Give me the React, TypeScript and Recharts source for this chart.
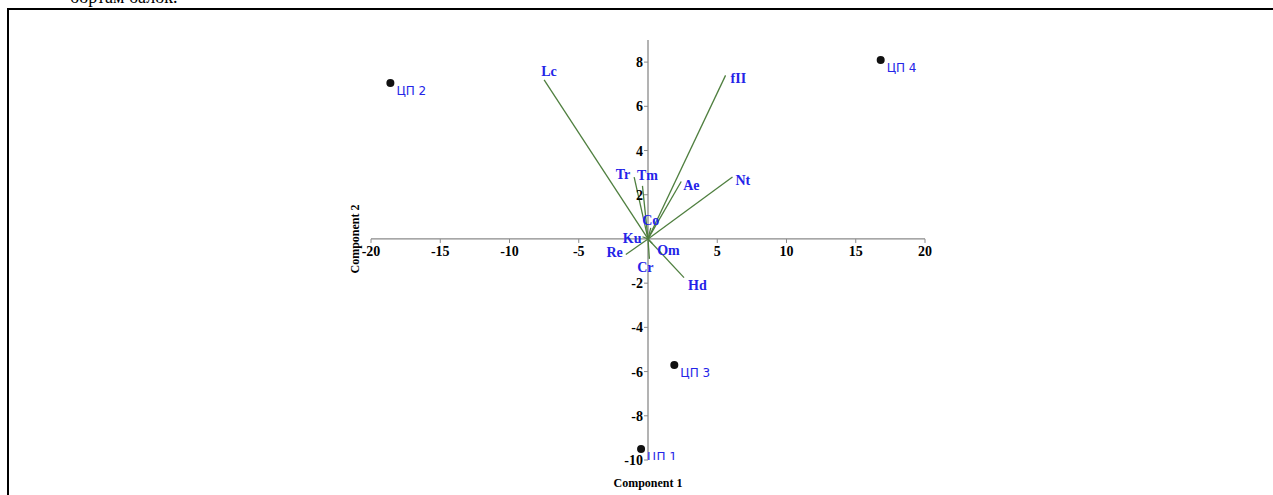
import React from "react";
import {
  ScatterChart,
  Scatter,
  XAxis,
  YAxis,
  ReferenceLine,
  ReferenceDot,
} from "recharts";

// loadings (arrows from origin)
const vectorNames = ["Lc", "fII", "Nt", "Ae", "Tr", "Tm", "Co", "Ku", "Om", "Re", "Cr", "Hd"];
const vectorX = [-7.5, 5.6, 6.1, 2.4, -1.0, -0.4, 0.2, -0.4, 0.3, -1.6, 0.1, 2.6];
const vectorY = [7.2, 7.4, 2.8, 2.6, 2.8, 2.4, 0.5, 0.1, -0.2, -0.7, -0.9, -1.75];

// scores
const pointNames = ["ЦП 1", "ЦП 2", "ЦП 3", "ЦП 4"];
const pointX = [-0.5, -18.6, 1.9, 16.8];
const pointY = [-9.5, 7.05, -5.7, 8.1];

const xTicks = [-20, -15, -10, -5, 5, 10, 15, 20];
const yTicks = [-10, -8, -6, -4, -2, 2, 4, 6, 8];

// label placement relative to arrow tip: [dx, dy, anchor]
const labelPos: Record<string, [number, number, string]> = {
  Lc: [-3, -4, "start"],
  fII: [5, 8, "start"],
  Nt: [3, 8, "start"],
  Ae: [2, 9, "start"],
  Tr: [-4, 2, "end"],
  Tm: [5, -6, "middle"],
  Co: [0, -3, "middle"],
  Ku: [-1, 6, "end"],
  Om: [5, 12, "start"],
  Re: [-3, 3, "end"],
  Cr: [-4, 13, "middle"],
  Hd: [4, 12, "start"],
};

const points = pointNames.map((name, i) => ({ name, x: pointX[i], y: pointY[i] }));

const serif = "'Liberation Serif', 'Times New Roman', serif";
const blue = "#2424e8";
const axisColor = "#8a8a8a";
const arrowColor = "#4f7f3f";

export default function App() {
  return (
    <div
      style={{
        position: "fixed",
        left: 0,
        top: 0,
        width: 1273,
        height: 495,
        overflow: "hidden",
        background: "#fff",
      }}
    >
      <div
        style={{
          position: "absolute",
          left: 70,
          top: -13,
          fontFamily: serif,
          fontSize: 18,
          color: "#000",
        }}
      >
        бортам балок.
      </div>
      <div
        style={{
          position: "absolute",
          left: 7,
          top: 8,
          width: 1280,
          height: 500,
          border: "2px solid #000",
        }}
      >
        <ScatterChart
          width={1264}
          height={483}
          margin={{ top: 30, right: 348, bottom: 33, left: 362 }}
        >
          <XAxis type="number" dataKey="x" domain={[-20, 20]} hide allowDataOverflow />
          <YAxis type="number" dataKey="y" domain={[-10, 9]} hide allowDataOverflow />

          <ReferenceLine y={0} stroke={axisColor} strokeWidth={1.3} />
          <ReferenceLine x={0} stroke={axisColor} strokeWidth={1.3} />

          {xTicks.map((t) => (
            <ReferenceDot
              key={"xt" + t}
              x={t}
              y={0}
              ifOverflow="visible"
              shape={(p: any) => (
                <g>
                  <line x1={p.cx} y1={p.cy} x2={p.cx} y2={p.cy + 4} stroke={axisColor} />
                  <text
                    x={p.cx}
                    y={p.cy + 17}
                    textAnchor="middle"
                    fontFamily={serif}
                    fontWeight="bold"
                    fontSize={14}
                    fill="#000"
                  >
                    {t}
                  </text>
                </g>
              )}
            />
          ))}

          {yTicks.map((t) => (
            <ReferenceDot
              key={"yt" + t}
              x={0}
              y={t}
              ifOverflow="visible"
              shape={(p: any) => (
                <g>
                  <line x1={p.cx - 4} y1={p.cy} x2={p.cx} y2={p.cy} stroke={axisColor} />
                  <text
                    x={p.cx - 5}
                    y={p.cy + 5}
                    textAnchor="end"
                    fontFamily={serif}
                    fontWeight="bold"
                    fontSize={14}
                    fill="#000"
                  >
                    {t}
                  </text>
                </g>
              )}
            />
          ))}

          {vectorNames.map((n, i) => (
            <ReferenceLine
              key={"v" + n}
              segment={[
                { x: 0, y: 0 },
                { x: vectorX[i], y: vectorY[i] },
              ]}
              stroke={arrowColor}
              strokeWidth={1.3}
              ifOverflow="visible"
            />
          ))}

          {vectorNames.map((n, i) => (
            <ReferenceDot
              key={"vl" + n}
              x={vectorX[i]}
              y={vectorY[i]}
              ifOverflow="visible"
              shape={(p: any) => (
                <text
                  x={p.cx + labelPos[n][0]}
                  y={p.cy + labelPos[n][1]}
                  textAnchor={labelPos[n][2] as any}
                  fontFamily={serif}
                  fontWeight="bold"
                  fontSize={14}
                  fill={blue}
                >
                  {n}
                </text>
              )}
            />
          ))}

          <Scatter
            data={points}
            isAnimationActive={false}
            shape={(p: any) => (
              <g>
                <circle cx={p.cx} cy={p.cy} r={4} fill="#111" />
                <text
                  x={p.cx + 6}
                  y={p.cy + 12}
                  fontFamily="'DejaVu Sans', sans-serif"
                  fontSize={12}
                  fill={blue}
                >
                  {p.payload.name}
                </text>
              </g>
            )}
          />

          <ReferenceDot
            x={0}
            y={-10}
            ifOverflow="visible"
            shape={(p: any) => (
              <text
                x={p.cx}
                y={p.cy + 27}
                textAnchor="middle"
                fontFamily={serif}
                fontWeight="bold"
                fontSize={12}
                fill="#000"
              >
                Component 1
              </text>
            )}
          />
          <ReferenceDot
            x={-20}
            y={0}
            ifOverflow="visible"
            shape={(p: any) => (
              <text
                x={p.cx - 12}
                y={p.cy}
                textAnchor="middle"
                transform={`rotate(-90 ${p.cx - 12} ${p.cy})`}
                fontFamily={serif}
                fontWeight="bold"
                fontSize={12}
                fill="#000"
              >
                Component 2
              </text>
            )}
          />
        </ScatterChart>
      </div>
    </div>
  );
}
